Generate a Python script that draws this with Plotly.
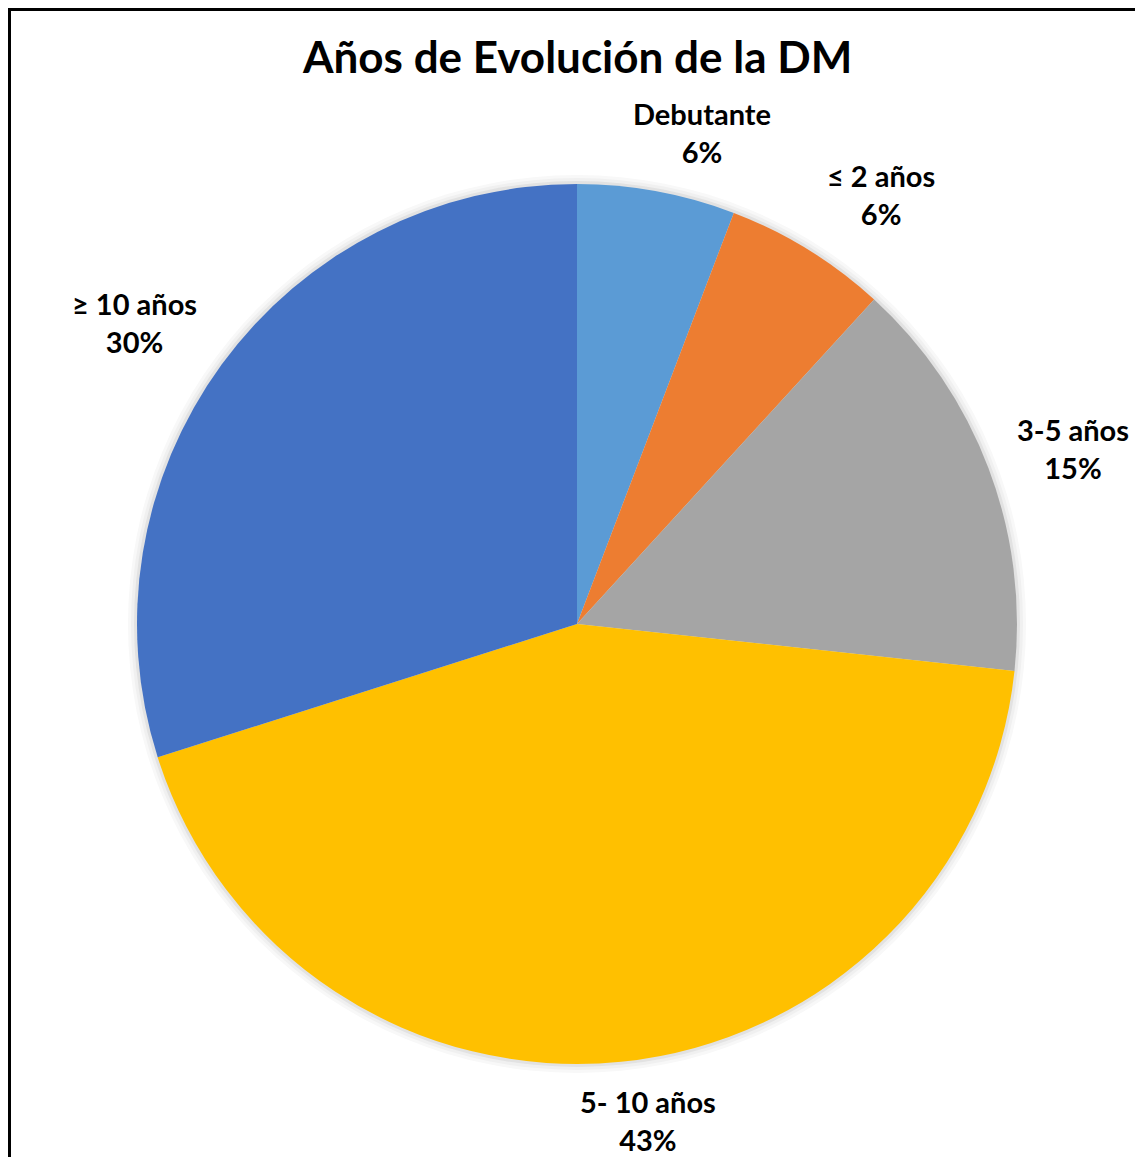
import math
import plotly.graph_objects as go

# ---- data ----
categories = ["Debutante", "≤ 2 años", "3-5 años", "5- 10 años", "≥ 10 años"]
values = [5.8, 6.0, 14.9, 43.4, 29.9]
percent_labels = ["6%", "6%", "15%", "43%", "30%"]
colors = ["#5B9BD5", "#ED7D31", "#A5A5A5", "#FFC000", "#4472C4"]
title_text = "Años de Evolución de la DM"

# ---- layout geometry (pixels, relative to the figure's own top-left) ----
W, H = 1143, 1157
OFF = 8  # page margin of the html body
cx, cy, R = 577 - OFF, 624 - OFF, 440
FONT = "Lato"


def domain(radius):
    return dict(x=[(cx - radius) / W, (cx + radius) / W],
                y=[1 - (cy + radius) / H, 1 - (cy - radius) / H])


def clamp(v):
    return max(-1.0, min(1.0, v))


fig = go.Figure()

# soft shadow rings behind the pie
for extra, col in [(9, "#F8F8F8"), (6, "#F0F0F0"), (3, "#E2E2E2")]:
    fig.add_trace(go.Pie(
        values=[1], labels=[""], sort=False,
        marker=dict(colors=[col], line=dict(width=0)),
        textinfo="none", hoverinfo="skip", showlegend=False,
        domain=domain(R + extra),
    ))

fig.add_trace(go.Pie(
    labels=categories,
    values=values,
    sort=False,
    direction="clockwise",
    rotation=0,
    marker=dict(colors=colors, line=dict(width=0)),
    textinfo="none",
    hoverinfo="label+percent",
    showlegend=False,
    domain=domain(R),
))

# label annotations placed outside each slice, from cumulative values
total = sum(values)
cum = 0.0
annotations = []
LABEL_R = R + 29
for cat, v, pl in zip(categories, values, percent_labels):
    mid = (cum + v / 2) / total * 2 * math.pi
    cum += v
    s, c = math.sin(mid), math.cos(mid)
    half_w = len(cat) * 14.3 / 2
    half_h = 30
    fy = math.copysign(clamp(max(0.0, 2 * abs(c) - 0.37)), c)
    px = cx + LABEL_R * s + half_w * clamp(3.4 * s)
    py = cy - LABEL_R * c - half_h * fy
    annotations.append(dict(
        x=px / W, y=1 - py / H, xref="paper", yref="paper",
        text=f"<b>{cat}</b><br><b>{pl}</b>",
        showarrow=False, xanchor="center", yanchor="middle",
        font=dict(family=FONT, size=29, color="#000000"),
        align="center",
    ))

annotations.append(dict(
    x=cx / W, y=1 - (56 - OFF) / H, xref="paper", yref="paper",
    text=f"<b>{title_text}</b>", showarrow=False,
    xanchor="center", yanchor="middle",
    font=dict(family=FONT, size=44, color="#000000"),
))

fig.update_layout(
    width=W, height=H,
    margin=dict(l=0, r=0, t=0, b=0),
    paper_bgcolor="white",
    plot_bgcolor="white",
    annotations=annotations,
    shapes=[dict(
        type="rect", xref="paper", yref="paper",
        x0=1.5 / W, y0=-0.1, x1=1.1, y1=1 - 1.5 / H,
        line=dict(color="black", width=3), fillcolor="rgba(0,0,0,0)",
    )],
)

fig.write_html("out.html")
